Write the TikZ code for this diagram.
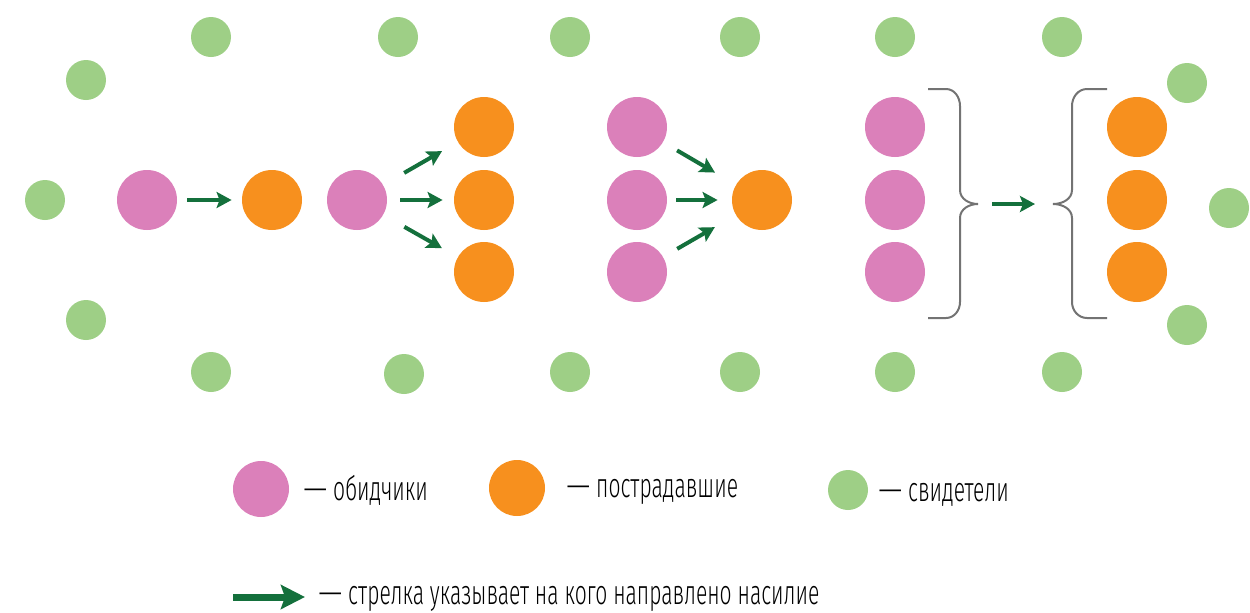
\documentclass[tikz,border=0pt]{standalone}
\usepackage{fontspec}
\IfFontExistsTF{Fira Sans Light}
  {\setmainfont{Fira Sans Light}[FakeStretch=0.62]\newfontfamily\dashfont{Fira Sans Light}[FakeStretch=0.9]}
  {\setmainfont{Fira Sans}[FakeStretch=0.62]\newfontfamily\dashfont{Fira Sans}[FakeStretch=0.9]}
\newcommand{\mydash}{{\dashfont —}}
\usetikzlibrary{arrows.meta}
\definecolor{pinkc}{RGB}{219,128,186}
\definecolor{orangec}{RGB}{247,144,30}
\definecolor{greenc}{RGB}{158,207,134}
\definecolor{arrowc}{RGB}{20,112,60}
\definecolor{bracec}{RGB}{115,115,115}
\begin{document}
\begin{tikzpicture}[x=0.5pt,y=-0.5pt,
  dot/.style={circle,inner sep=0pt,draw=none},
  bully/.style={dot,fill=pinkc,minimum size=30pt},
  victim/.style={dot,fill=orangec,minimum size=30pt},
  witness/.style={dot,fill=greenc,minimum size=20pt},
  harm/.style={draw=arrowc,line width=2pt,-{Stealth[length=7.5pt,width=8pt,inset=1.5pt]}},
  bigharm/.style={draw=arrowc,line width=3.5pt,-{Stealth[length=12pt,width=12pt,inset=2pt]}},
  bracket/.style={draw=bracec,line width=1pt},
  legend/.style={anchor=base west,inner sep=0pt,font=\fontsize{17}{20}\selectfont}]
\path[use as bounding box] (0,0) rectangle (1250,612);
% witnesses
\node[witness] (w1) at (211,37) {};
\node[witness] (w2) at (398,37) {};
\node[witness] (w3) at (570,37) {};
\node[witness] (w4) at (740,37) {};
\node[witness] (w5) at (895,37) {};
\node[witness] (w6) at (1062,37) {};
\node[witness] (w7) at (86,80) {};
\node[witness] (w8) at (1187,83) {};
\node[witness] (w9) at (45,200) {};
\node[witness] (w10) at (1229,208) {};
\node[witness] (w11) at (86,320) {};
\node[witness] (w12) at (1187,325) {};
\node[witness] (w13) at (211,372) {};
\node[witness] (w14) at (404,374) {};
\node[witness] (w15) at (570,372) {};
\node[witness] (w16) at (740,372) {};
\node[witness] (w17) at (895,372) {};
\node[witness] (w18) at (1062,372) {};
% group 1
\node[bully] (p1) at (147,200) {};
\node[victim] (o1) at (272,200) {};
\draw[harm,shorten <=5pt,shorten >=5pt] (p1) -- (o1);
% group 2
\node[bully] (p2) at (357,200) {};
\node[victim] (o2a) at (484,127) {};
\node[victim] (o2b) at (484,200) {};
\node[victim] (o2c) at (484,272) {};
\draw[harm,shorten <=12pt,shorten >=9pt] (p2) -- (o2a);
\draw[harm,shorten <=6.5pt,shorten >=5.5pt] (p2) -- (o2b);
\draw[harm,shorten <=12pt,shorten >=9pt] (p2) -- (o2c);
% group 3
\node[bully] (p3a) at (637,127) {};
\node[bully] (p3b) at (637,200) {};
\node[bully] (p3c) at (637,272) {};
\node[victim] (o3) at (762,200) {};
\draw[harm,shorten <=8pt,shorten >=12pt] (p3a) -- (o3);
\draw[harm,shorten <=4.5pt,shorten >=7pt] (p3b) -- (o3);
\draw[harm,shorten <=8pt,shorten >=12pt] (p3c) -- (o3);
% group 4
\node[bully] (p4a) at (895,127) {};
\node[bully] (p4b) at (895,200) {};
\node[bully] (p4c) at (895,272) {};
\node[victim] (o4a) at (1137,127) {};
\node[victim] (o4b) at (1137,200) {};
\node[victim] (o4c) at (1137,272) {};
\coordinate (b1) at (978,204);
\coordinate (b2) at (1053,204);
\draw[bracket] (928,89) -- (946,89) to[out=0,in=90] (960,106) -- (960,190)
  to[out=-90,in=180] (b1) to[out=180,in=90] (960,218) -- (960,302)
  to[out=-90,in=0] (946,318) -- (928,318);
\draw[bracket] (1107,89) -- (1087,89) to[out=180,in=90] (1072,106) -- (1072,190)
  to[out=-90,in=0] (b2) to[out=0,in=90] (1072,218) -- (1072,302)
  to[out=-90,in=180] (1087,318) -- (1107,318);
\draw[harm,shorten <=7pt,shorten >=9pt] (b1) -- (b2);
% legend
\node[bully,minimum size=28pt] (lp) at (261,489) {};
\node[legend] (lt1) at (303,500) {\mydash{} обидчики};
\node[victim,minimum size=28pt] (lo) at (517,488) {};
\node[legend] (lt2) at (566,497) {\mydash{} пострадавшие};
\node[witness] (lg) at (848,490) {};
\node[legend] (lt3) at (878,501) {\mydash{} свидетели};
\coordinate (la1) at (233,597);
\coordinate (la2) at (305,597);
\draw[bigharm] (la1) -- (la2);
\node[legend] (lt4) at (318,604) {\mydash{} стрелка указывает на кого направлено насилие};
\end{tikzpicture}
\end{document}
